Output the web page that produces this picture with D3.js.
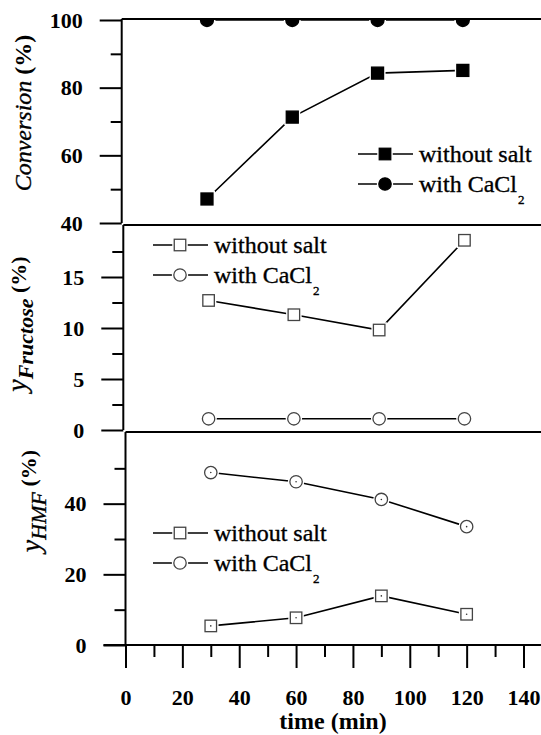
<!DOCTYPE html>
<html>
<head>
<meta charset="utf-8">
<script src="https://cdn.jsdelivr.net/npm/d3@7"></script>
<style>
  body { margin: 0; background: #fff; }
</style>
</head>
<body>
<svg id="chart" width="541" height="735"></svg>
<script>
// data
var times = [30, 60, 90, 120];
var convWithout = [47.1, 71.3, 84.3, 85.1];
var convWith = [100, 100, 100, 100];
var fruWithout = [12.7, 11.3, 9.8, 18.6];
var fruWith = [1.1, 1.1, 1.1, 1.1];
var hmfWithout = [5.4, 7.7, 13.9, 8.7];
var hmfWith = [48.8, 46.2, 41.2, 33.5];

var xMajor = [0, 20, 40, 60, 80, 100, 120, 140];
var xMinor = [10, 30, 50, 70, 90, 110, 130];
var convMajor = [40, 60, 80, 100], convMinor = [50, 70, 90];
var fruMajor = [0, 5, 10, 15], fruMinor = [2.5, 7.5, 12.5, 17.5];
var hmfMajor = [0, 20, 40], hmfMinor = [10, 30, 50];
var legendLabels = ["without salt", "with CaCl"];

var W = 541;
var FONT = "'Liberation Serif', 'Times New Roman', serif";
var svg = d3.select("#chart");

// each panel sits a little further right than the one above
var panels = [
  {left: 121.7, top: 20, bottom: 223, dom: [40, 100], major: convMajor, minor: convMinor,
   without: convWithout, with: convWith, filled: true, dot: false,
   legend: {x: 358, y: 154}},
  {left: 123.3, top: 226, bottom: 430, dom: [0, 20], major: fruMajor, minor: fruMinor,
   without: fruWithout, with: fruWith, filled: false, dot: false,
   legend: {x: 153, y: 245}},
  {left: 125.5, top: 433, bottom: 645, dom: [0, 60], major: hmfMajor, minor: hmfMinor,
   without: hmfWithout, with: hmfWith, filled: false, dot: true,
   legend: {x: 153, y: 533}}
];

function drawMarker(g, shape, cx, cy, p, big) {
  var s = big ? 12 : 11.5, r = big ? 6.5 : 6.2;
  var stroke = p.filled ? "#000" : "#444";
  var fill = p.filled ? "#000" : "#fff";
  if (shape == "square") {
    g.append("rect").attr("x", cx - s / 2 - 2).attr("y", cy - s / 2 - 2)
      .attr("width", s + 4).attr("height", s + 4).attr("fill", "#fff");
    g.append("rect").attr("x", cx - s / 2).attr("y", cy - s / 2)
      .attr("width", s).attr("height", s)
      .attr("fill", fill).attr("stroke", stroke).attr("stroke-width", 1.3);
  } else {
    g.append("circle").attr("cx", cx).attr("cy", cy).attr("r", r + 2).attr("fill", "#fff");
    g.append("circle").attr("cx", cx).attr("cy", cy).attr("r", r)
      .attr("fill", fill).attr("stroke", stroke).attr("stroke-width", 1.3);
  }
  if (p.dot) {
    g.append("circle").attr("cx", cx).attr("cy", cy).attr("r", 0.8).attr("fill", "#333");
  }
}

function styleTicks(a) {
  a.select(".domain").remove();
  a.selectAll("line").attr("stroke", "#000").attr("stroke-width", 2);
  a.selectAll("text").style("font-family", FONT).attr("font-size", 22)
    .attr("font-weight", "bold").attr("fill", "#000");
}

panels.forEach(function(p, i) {
  var x = d3.scaleLinear().domain([0, 140]).range([p.left, p.left + 398]);
  var y = d3.scaleLinear().domain(p.dom).range([p.bottom, p.top]);
  var g = svg.append("g");

  var clipId = "clip" + i;
  svg.append("clipPath").attr("id", clipId).append("rect")
    .attr("x", p.left).attr("y", p.top).attr("width", W - p.left).attr("height", p.bottom - p.top + 10);

  // y ticks
  var major = d3.axisLeft(y).tickValues(p.major).tickSize(22).tickPadding(17).tickSizeOuter(0);
  var minor = d3.axisLeft(y).tickValues(p.minor).tickSize(11).tickFormat("").tickSizeOuter(0);
  [major, minor].forEach(function(ax) {
    g.append("g").attr("transform", "translate(" + p.left + ",0)").call(ax).call(styleTicks);
  });

  // frame: left line and top line running off the picture
  g.append("line").attr("x1", p.left).attr("x2", p.left).attr("y1", p.top - 1).attr("y2", p.bottom)
    .attr("stroke", "#000").attr("stroke-width", 2);
  g.append("line").attr("x1", p.left).attr("x2", W).attr("y1", p.top - 1).attr("y2", p.top - 1)
    .attr("stroke", "#000").attr("stroke-width", 2.2);

  if (i == 2) {
    var xa = d3.axisBottom(x).tickValues(xMajor).tickSize(23).tickPadding(21).tickSizeOuter(0);
    var xm = d3.axisBottom(x).tickValues(xMinor).tickSize(12).tickFormat("").tickSizeOuter(0);
    [xa, xm].forEach(function(ax) {
      g.append("g").attr("transform", "translate(0," + p.bottom + ")").call(ax).call(styleTicks);
    });
    g.append("line").attr("x1", p.left - 22).attr("x2", W).attr("y1", p.bottom).attr("y2", p.bottom)
      .attr("stroke", "#000").attr("stroke-width", 2);
  }

  // series
  var data = g.append("g").attr("clip-path", "url(#" + clipId + ")");
  [["square", p.without], ["circle", p.with]].forEach(function(s) {
    var pts = times.map(function(t, k) { return [x(t), y(s[1][k])]; });
    data.append("path").attr("d", d3.line()(pts)).attr("fill", "none")
      .attr("stroke", "#000").attr("stroke-width", 1.6);
    pts.forEach(function(pt) { drawMarker(data, s[0], pt[0], pt[1], p, i == 0); });
  });

  // legend
  var lg = g.append("g");
  ["square", "circle"].forEach(function(shape, k) {
    var ly = p.legend.y + k * 30;
    lg.append("line").attr("x1", p.legend.x).attr("x2", p.legend.x + 55).attr("y1", ly).attr("y2", ly)
      .attr("stroke", "#000").attr("stroke-width", 1.6);
    drawMarker(lg, shape, p.legend.x + 27, ly, {filled: p.filled, dot: false}, false);
    var t = lg.append("text").attr("x", p.legend.x + 61).attr("y", ly + 8)
      .style("font-family", FONT).attr("font-size", 24).attr("fill", "#000")
      .attr("stroke", "#000").attr("stroke-width", 0.35).text(legendLabels[k]);
    if (k == 1) {
      t.append("tspan").attr("font-size", 13).attr("dy", 12).attr("dx", 1).text("2");
    }
  });
});

// axis titles
svg.append("text").attr("transform", "translate(31,113) rotate(-90)")
  .style("font-family", FONT).attr("text-anchor", "middle").attr("font-size", 24).attr("fill", "#000")
  .call(function(t) {
    t.append("tspan").attr("font-style", "italic").attr("stroke", "#000").attr("stroke-width", 0.35).text("Conversion");
    t.append("tspan").attr("font-weight", "bold").text(" (%)");
  });

svg.append("text").attr("transform", "translate(26,324) rotate(-90)")
  .style("font-family", FONT).attr("text-anchor", "middle").attr("font-size", 22).attr("fill", "#000")
  .call(function(t) {
    t.append("tspan").attr("font-style", "italic").attr("font-size", 28)
      .attr("stroke", "#000").attr("stroke-width", 0.35).text("y");
    t.append("tspan").attr("font-style", "italic").attr("font-weight", "bold").attr("dy", 7).text("Fructose");
    t.append("tspan").attr("font-weight", "bold").attr("dy", -7).text(" (%)");
  });

svg.append("text").attr("transform", "translate(40,501) rotate(-90)")
  .style("font-family", FONT).attr("text-anchor", "middle").attr("font-size", 22).attr("fill", "#000")
  .call(function(t) {
    t.append("tspan").attr("font-style", "italic").attr("font-size", 28)
      .attr("stroke", "#000").attr("stroke-width", 0.35).text("y");
    t.append("tspan").attr("font-style", "italic").attr("stroke", "#000").attr("stroke-width", 0.35)
      .attr("dy", 6).text("HMF");
    t.append("tspan").attr("font-weight", "bold").attr("dy", -10).text(" (%)");
  });

svg.append("text").attr("x", 333).attr("y", 729).attr("text-anchor", "middle")
  .style("font-family", FONT).attr("font-size", 24).attr("font-weight", "bold")
  .attr("fill", "#000").text("time (min)");
</script>
</body>
</html>
